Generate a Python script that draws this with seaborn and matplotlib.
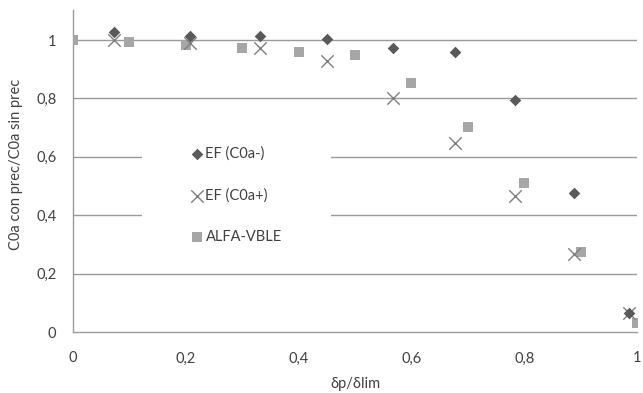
import matplotlib
matplotlib.use("Agg")
import matplotlib.pyplot as plt
import seaborn as sns
import pandas as pd
from matplotlib.patches import Rectangle

ef_x = [0.073, 0.207, 0.331, 0.451, 0.568, 0.677, 0.784, 0.888, 0.985]
ef_minus = [1.026, 1.014, 1.014, 1.002, 0.972, 0.959, 0.795, 0.475, 0.064]
ef_plus = [1.0, 0.989, 0.974, 0.928, 0.802, 0.646, 0.467, 0.266, 0.064]
alfa_x = [0.0, 0.1, 0.2, 0.3, 0.4, 0.5, 0.6, 0.7, 0.8, 0.9, 1.0]
alfa_y = [1.0, 0.992, 0.983, 0.972, 0.960, 0.949, 0.853, 0.701, 0.509, 0.273, 0.030]
x_ticks = [0, 0.2, 0.4, 0.6, 0.8, 1.0]
x_ticklabels = ["0", "0,2", "0,4", "0,6", "0,8", "1"]
y_ticks = [0, 0.2, 0.4, 0.6, 0.8, 1.0]
y_ticklabels = ["0", "0,2", "0,4", "0,6", "0,8", "1"]

sns.set_theme(style="white")
plt.rcParams['font.family'] = ['Lato', 'DejaVu Sans']

txt = "#404040"
fs = 10.5
fig = plt.figure(figsize=(6.43, 3.93), dpi=100)
ax = fig.add_axes([73/643, 1 - 332/393, (637 - 73)/643, (332 - 10)/393])

for y in y_ticks[1:]:
    ax.axhline(y, color="#9a9a9a", lw=1.0, zorder=0)

# white area behind the legend (hides gridlines like the original)
ax.add_patch(Rectangle((0.122, 0.23), 0.335, 0.40, transform=ax.transAxes,
                       facecolor="white", edgecolor="none", zorder=1))

df1 = pd.DataFrame({"x": ef_x, "y": ef_minus})
df2 = pd.DataFrame({"x": ef_x, "y": ef_plus})
df3 = pd.DataFrame({"x": alfa_x, "y": alfa_y})

sns.scatterplot(data=df3, x="x", y="y", ax=ax, marker="s", s=60, color="#a6a6a6",
                edgecolor="#a6a6a6", linewidth=0, label="ALFA-VBLE", zorder=3)
sns.scatterplot(data=df2, x="x", y="y", ax=ax, marker="x", s=80, color="#7f7f7f",
                linewidth=1.0, label="EF (C0a+)", zorder=4)
sns.scatterplot(data=df1, x="x", y="y", ax=ax, marker="D", s=35, color="#595959",
                edgecolor="#595959", linewidth=0, label="EF (C0a-)", zorder=5)

ax.set_xlim(0, 1.0)
ax.set_ylim(0, 1.103)
ax.set_xticks(x_ticks)
ax.set_xticklabels(x_ticklabels)
ax.set_yticks(y_ticks)
ax.set_yticklabels(y_ticklabels)
ax.tick_params(axis="x", length=0, labelsize=fs, colors=txt, pad=14)
ax.tick_params(axis="y", length=0, labelsize=fs, colors=txt, pad=12)
ax.set_xlabel("δp/δlim", fontsize=fs, color=txt, labelpad=8)
ax.set_ylabel("C0a con prec/C0a sin prec", fontsize=fs, color=txt, labelpad=8)
ax.yaxis.set_label_coords(-0.088, 0.52)

for s in ["top", "right"]:
    ax.spines[s].set_visible(False)
for s in ["left", "bottom"]:
    ax.spines[s].set_color("#9a9a9a")
    ax.spines[s].set_linewidth(1.0)

handles, labels = ax.get_legend_handles_labels()
order = [2, 1, 0]
leg = ax.legend([handles[i] for i in order], [labels[i] for i in order],
                loc="center left", bbox_to_anchor=(0.2, 0.425), frameon=False,
                fontsize=fs, labelspacing=1.9, handletextpad=0.15,
                handlelength=0.8, borderaxespad=0)
for t in leg.get_texts():
    t.set_color(txt)
leg.set_zorder(6)

fig.savefig("out.png", dpi=100)
